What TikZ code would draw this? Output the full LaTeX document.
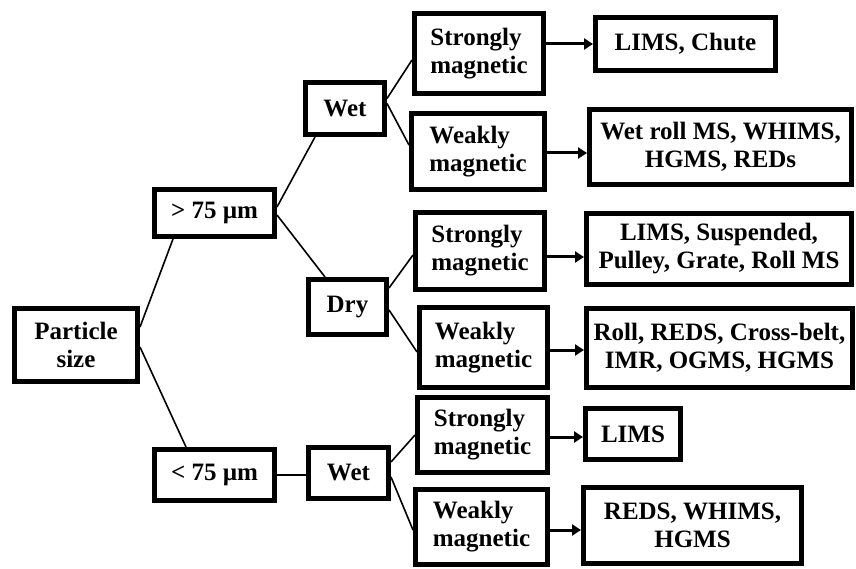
\documentclass[tikz,border=0pt]{standalone}
\usepackage{fontspec}
\setmainfont{Liberation Serif}
\usetikzlibrary{arrows.meta}
\begin{document}
\begin{tikzpicture}[x=1pt,y=-1pt,
  box/.style={draw, line width=5pt, inner sep=0pt, align=center, font=\fontsize{25}{28}\selectfont\bfseries},
  magbox/.style={box, align=left},
  link/.style={line width=1.6pt},
  arr/.style={line width=3pt, -{Triangle[length=9pt,width=11pt]}}]
\useasboundingbox (0,0) rectangle (856,569);
% level 0
\node[box, minimum width=123pt, minimum height=73pt] (ps) at (76,345) {Particle\\size};
% level 1
\node[box, minimum width=120pt, minimum height=47pt] (g75) at (214.5,213) {> 75 µm};
\node[box, minimum width=120pt, minimum height=51pt] (l75) at (214.5,475) {< 75 µm};
% level 2
\node[box, minimum width=79pt, minimum height=52pt] (wet1) at (345,108.5) {Wet};
\node[box, minimum width=78pt, minimum height=55pt] (dry) at (347.5,307) {Dry};
\node[box, minimum width=80pt, minimum height=51pt] (wet2) at (348.5,473) {Wet};
% level 3
\node[magbox, minimum width=129pt, minimum height=80pt] (s1) at (479,53.5) {Strongly\\magnetic};
\node[magbox, minimum width=133pt, minimum height=76pt] (w1) at (478,151.5) {Weakly\\magnetic};
\node[magbox, minimum width=129pt, minimum height=77pt] (s2) at (480,251) {Strongly\\magnetic};
\node[magbox, minimum width=128pt, minimum height=80pt] (w2) at (483.5,347.5) {Weakly\\magnetic};
\node[magbox, minimum width=130pt, minimum height=75pt] (s3) at (482.5,435) {Strongly\\magnetic};
\node[magbox, minimum width=132pt, minimum height=75pt] (w3) at (481.5,527) {Weakly\\magnetic};
% level 4
\node[box, minimum width=180pt, minimum height=53pt] (r1) at (685.5,44) {LIMS, Chute};
\node[box, minimum width=262pt, minimum height=75pt] (r2) at (720.5,147) {Wet roll MS, WHIMS,\\HGMS, REDs};
\node[box, minimum width=265pt, minimum height=71pt] (r3) at (719,249) {LIMS, Suspended,\\Pulley, Grate, Roll MS};
\node[box, minimum width=266pt, minimum height=79pt] (r4) at (719.5,348) {Roll, REDS, Cross-belt,\\IMR, OGMS, HGMS};
\node[box, minimum width=95pt, minimum height=51pt] (r5) at (633,434) {LIMS};
\node[box, minimum width=218pt, minimum height=76pt] (r6) at (692.5,525.5) {REDS, WHIMS,\\HGMS};
% tree links
\draw[link] ([yshift=18pt]ps.east) -- ([xshift=-41.5pt]g75.south);
\draw[link] ([yshift=-2pt]ps.east) -- ([xshift=-28.5pt]l75.north);
\draw[link] ([yshift=6pt]g75.east) -- ([xshift=-30pt]wet1.south);
\draw[link] ([yshift=-2pt]g75.east) -- ([xshift=-22.5pt]dry.north);
\draw[link] (l75.east) -- (l75.east -| wet2.west);
\draw[link] ([yshift=10pt]wet1.east) -- ([yshift=-6.5pt]s1.west);
\draw[link] ([yshift=5pt]wet1.east) -- ([yshift=6.5pt]w1.west);
\draw[link] ([yshift=19pt]dry.east) -- ([yshift=-4pt]s2.west);
\draw[link] ([yshift=-3pt]dry.east) -- ([yshift=-4.5pt]w2.west);
\draw[link] ([yshift=11pt]wet2.east) -- (s3.west);
\draw[link] ([yshift=-4pt]wet2.east) -- ([yshift=-3pt]w3.west);
% arrows
\draw[arr] (s1.east |- r1.west) -- (r1.west);
\draw[arr] ([yshift=-1.5pt]w1.east) -- ([yshift=-1.5pt]w1.east -| r2.west);
\draw[arr] ([yshift=-6pt]s2.east) -- ([yshift=-6pt]s2.east -| r3.west);
\draw[arr] ([yshift=-2.5pt]w2.east) -- ([yshift=-2.5pt]w2.east -| r4.west);
\draw[arr] ([yshift=-2pt]s3.east) -- ([yshift=-2pt]s3.east -| r5.west);
\draw[arr] ([yshift=-3pt]w3.east) -- ([yshift=-3pt]w3.east -| r6.west);
\end{tikzpicture}
\end{document}
